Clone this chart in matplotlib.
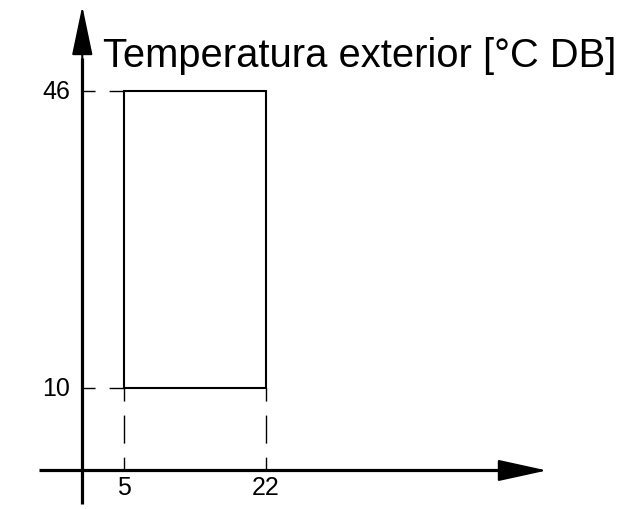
import matplotlib
matplotlib.use("Agg")
import matplotlib.pyplot as plt

# plage de fonctionnement
x_lim = [5, 22]      # axe horizontal
y_lim = [10, 46]     # temperatura exterior
x_labels = ["5", "22"]
y_labels = ["10", "46"]
title = "Temperatura exterior [°C DB]"

plt.rcParams["lines.scale_dashes"] = False

fig = plt.figure(figsize=(6.42, 5.10), dpi=100)
ax = fig.add_axes([0, 0, 1, 1])
ax.set_xlim(-9.85, 67.0)
ax.set_ylim(-4.67, 57.15)
ax.axis("off")

# axes avec fleches
ax.plot([0, 0], [-4.06, 50], color="black", lw=2.3, solid_capstyle="butt")
ax.plot([-5.15, 50], [0, 0], color="black", lw=2.3, solid_capstyle="butt")
ax.annotate("", xy=(0, 56.3), xytext=(0, 48),
            arrowprops=dict(arrowstyle="-|>,head_length=3.1,head_width=0.65",
                            mutation_scale=10, lw=1.5, color="black",
                            shrinkA=0, shrinkB=0))
ax.annotate("", xy=(55.6, 0), xytext=(48, 0),
            arrowprops=dict(arrowstyle="-|>,head_length=3.1,head_width=0.68",
                            mutation_scale=10, lw=1.5, color="black",
                            shrinkA=0, shrinkB=0))

# rectangle
ax.plot([x_lim[0], x_lim[1], x_lim[1], x_lim[0], x_lim[0]],
        [y_lim[0], y_lim[0], y_lim[1], y_lim[1], y_lim[0]],
        color="black", lw=1.5, solid_joinstyle="miter")

# lignes pointillees
dash = (10.8, (20.2, 10.1))
for y in y_lim:
    ax.plot([0, x_lim[0]], [y, y], color="black", lw=1.0, linestyle=dash)
for x in x_lim:
    ax.plot([x, x], [y_lim[0], 0], color="black", lw=1.0, linestyle=dash)

# etiquettes
for y, lab in zip(y_lim, y_labels):
    ax.text(-1.45, y, lab, ha="right", va="center", fontsize=18,
            family="Liberation Sans")
for x, lab in zip(x_lim, x_labels):
    ax.text(x, -0.5, lab, ha="center", va="top", fontsize=18,
            family="Liberation Sans")

ax.text(2.5, 49.03, title, ha="left", va="baseline", fontsize=28.7,
        family="Liberation Sans")

fig.savefig("out.png", dpi=100)
